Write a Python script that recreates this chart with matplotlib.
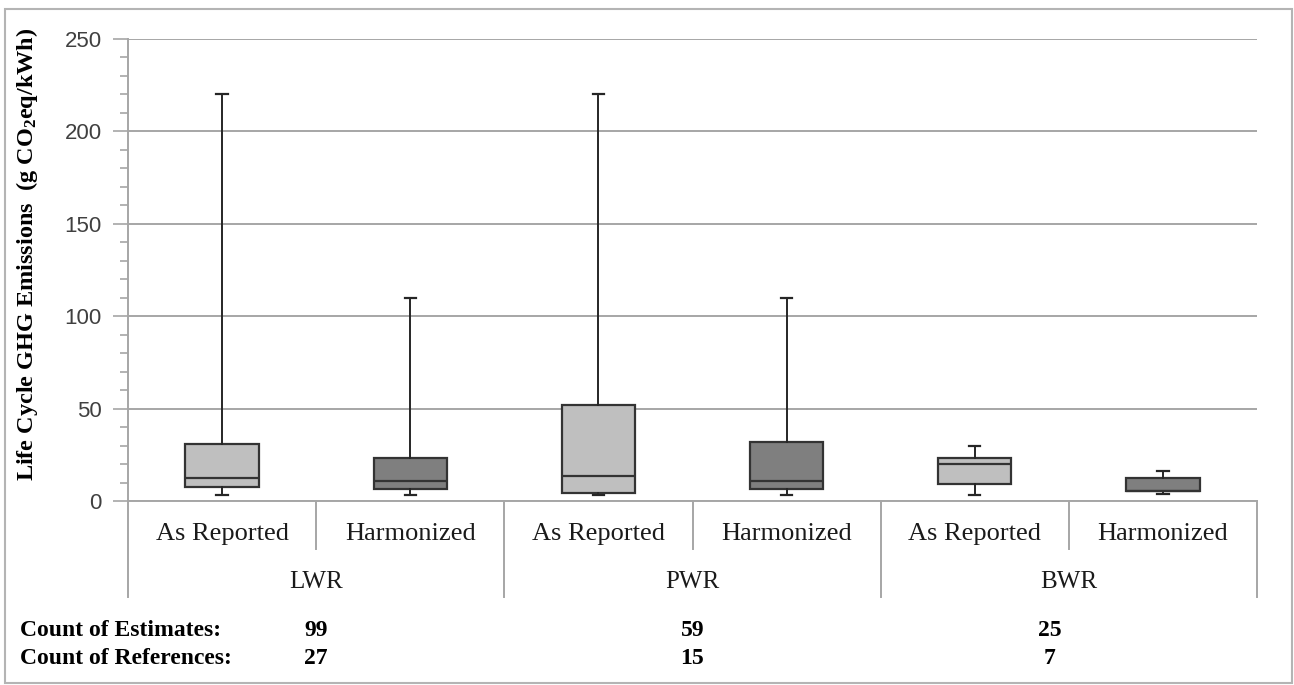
import matplotlib
matplotlib.use("Agg")
import matplotlib.pyplot as plt
from matplotlib.patches import Rectangle
from matplotlib.ticker import MultipleLocator

# data
groups = ["LWR", "PWR", "BWR"]
subcats = ["As Reported", "Harmonized", "As Reported", "Harmonized", "As Reported", "Harmonized"]
whislo = [3, 3, 3, 3, 3, 4]
q1 = [7.5, 6.5, 4.5, 6.5, 9, 5.5]
med = [12.5, 11, 13.5, 11, 20, 5.5]
q3 = [31, 23.5, 52, 32, 23.5, 12.5]
whishi = [220, 110, 220, 110, 30, 16]
est_counts = [99, 59, 25]
ref_counts = [27, 15, 7]

box_colors = ["#bfbfbf", "#7f7f7f"] * 3
grid_col = "#a6a6a6"
serif = "Liberation Serif"

fig = plt.figure(figsize=(12.94, 6.85), dpi=100)
ax = fig.add_axes([128 / 1294, 1 - 501 / 685, (1257 - 128) / 1294, (501 - 39) / 685])

stats = []
for i in range(len(subcats)):
    stats.append(dict(whislo=whislo[i], q1=q1[i], med=med[i], q3=q3[i], whishi=whishi[i], fliers=[]))

bp = ax.bxp(stats, positions=range(len(subcats)), widths=0.39, patch_artist=True,
            showfliers=False,
            boxprops=dict(edgecolor="#333333", linewidth=1.6),
            medianprops=dict(color="#333333", linewidth=1.6),
            whiskerprops=dict(color="#262626", linewidth=1.4),
            capprops=dict(color="#262626", linewidth=1.6),
            capwidths=0.06)
for patch, c in zip(bp["boxes"], box_colors):
    patch.set_facecolor(c)
    patch.set_zorder(3)
for k in ["whiskers", "caps", "medians"]:
    for a in bp[k]:
        a.set_zorder(4)

ax.set_xlim(-0.5, len(subcats) - 0.5)
ax.set_ylim(0, 250)
ax.yaxis.set_major_locator(MultipleLocator(50))
ax.yaxis.set_minor_locator(MultipleLocator(10))
ax.tick_params(axis="y", which="major", length=11, width=1.2, color=grid_col, pad=8,
               labelsize=16, labelcolor="#404040")
ax.tick_params(axis="y", which="minor", length=6, width=1.2, color=grid_col)
for lab in ax.get_yticklabels():
    lab.set_family("Liberation Sans")
ax.set_xticks([])
ax.grid(axis="y", which="major", color=grid_col, linewidth=1.4, zorder=0)
ax.set_axisbelow(True)
for s in ["top", "right"]:
    ax.spines[s].set_visible(False)
for s in ["left", "bottom"]:
    ax.spines[s].set_color(grid_col)
    ax.spines[s].set_linewidth(1.4)

plt.rcParams["mathtext.default"] = "regular"
ax.set_ylabel("Life Cycle GHG Emissions  (g CO$_2$eq/kWh)", family=serif, weight="bold",
              fontsize=17.5)
ax.yaxis.set_label_coords(-0.078, 0.535)

# category axis: separators and labels below the plot
trans = ax.get_xaxis_transform()
sub_low = (501 - 549) / 462
grp_low = (501 - 597) / 462
for x in [0.5, 2.5, 4.5]:
    ax.plot([x, x], [0, sub_low], transform=trans, color=grid_col, lw=1.4, clip_on=False)
for x in [-0.5, 1.5, 3.5, 5.5]:
    ax.plot([x, x], [0, grp_low], transform=trans, color=grid_col, lw=1.4, clip_on=False)

for i, name in enumerate(subcats):
    ax.text(i, (501 - 534) / 462, name, transform=trans, ha="center", va="center",
            family=serif, fontsize=19, color="#1a1a1a")
for g, name in enumerate(groups):
    ax.text(2 * g + 0.5, (501 - 582) / 462, name, transform=trans, ha="center", va="center",
            family=serif, fontsize=18, color="#1a1a1a")

# counts below the chart
fig.text(20 / 1294, 1 - 630 / 685, "Count of Estimates:", family=serif, weight="bold",
         fontsize=17, va="center", ha="left")
fig.text(20 / 1294, 1 - 658 / 685, "Count of References:", family=serif, weight="bold",
         fontsize=17, va="center", ha="left")
count_x = [0.5, 2.5, 4.4]
for g in range(len(groups)):
    xf = fig.transFigure.inverted().transform(ax.transData.transform((count_x[g], 0)))[0]
    fig.text(xf, 1 - 630 / 685, str(est_counts[g]), family=serif, weight="bold",
             fontsize=17, va="center", ha="center")
    fig.text(xf, 1 - 658 / 685, str(ref_counts[g]), family=serif, weight="bold",
             fontsize=17, va="center", ha="center")

# outer frame
fig.patches.append(Rectangle((5 / 1294, 1 - 683 / 685), (1292 - 5) / 1294, (683 - 9) / 685,
                             transform=fig.transFigure, fill=False, edgecolor="#b4b4b4",
                             linewidth=1.5))

fig.savefig("out.png", dpi=100)
